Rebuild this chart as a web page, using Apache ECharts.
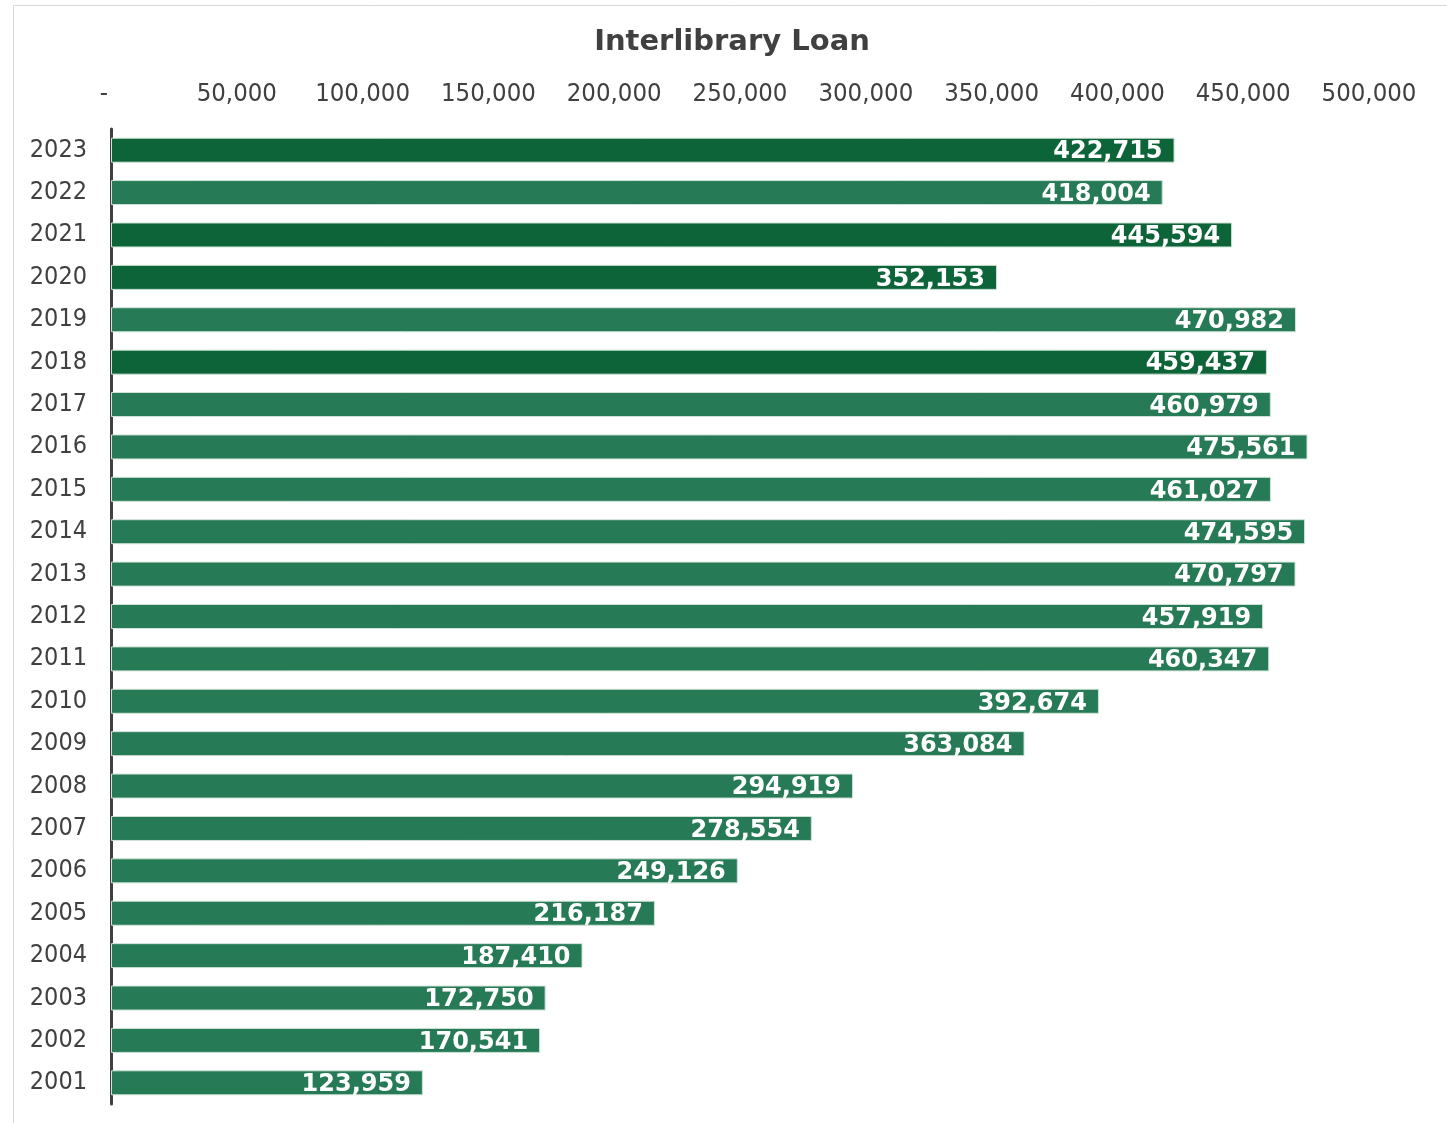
<!DOCTYPE html>
<html>
<head>
<meta charset="utf-8">
<script src="https://cdn.jsdelivr.net/npm/echarts@6/dist/echarts.min.js"></script>
<style>
html,body{margin:0;padding:0;background:#fff;}
#chart{width:1447px;height:1123px;}
</style>
</head>
<body>
<div id="chart"></div>
<script>
// Data (top to bottom as shown)
var years = ['2023','2022','2021','2020','2019','2018','2017','2016','2015','2014','2013','2012','2011','2010','2009','2008','2007','2006','2005','2004','2003','2002','2001'];
var loans = [422715,418004,445594,352153,470982,459437,460979,475561,461027,474595,470797,457919,460347,392674,363084,294919,278554,249126,216187,187410,172750,170541,123959];
var highlightedYears = ['2023','2021','2020','2018'];
var tickMin = 0, tickMax = 500000, tickStep = 50000;

var DARK = '#0e6439', LIGHT = '#267a56', TEXT = '#404040';
var AXFONT = '"DejaVu Sans Condensed", "DejaVu Sans", sans-serif';
var fmtNum = function (v) { return Number(v).toLocaleString('en-US'); };

var chart = echarts.init(document.getElementById('chart'), null, {renderer: 'canvas'});
chart.setOption({
  backgroundColor: '#ffffff',
  animation: false,
  title: {
    text: 'Interlibrary Loan',
    left: 727, top: 23, textAlign: 'center',
    textStyle: {fontFamily: 'DejaVu Sans', fontWeight: 'bold', fontSize: 29, color: TEXT}
  },
  graphic: [{
    type: 'rect', shape: {x: 13.5, y: 5.5, width: 1460, height: 1130},
    style: {fill: 'none', stroke: '#d9d9d9', lineWidth: 1}, silent: true, z: -1
  }],
  grid: {left: 111, right: 78, top: 129, bottom: 19, containLabel: false},
  xAxis: {
    type: 'value', position: 'top', min: tickMin, max: tickMax, interval: tickStep,
    axisLine: {show: false}, axisTick: {show: false}, splitLine: {show: false},
    axisLabel: {
      formatter: function (v) { return v === 0 ? '{dash|-}' : fmtNum(v); },
      color: TEXT, fontFamily: AXFONT, fontSize: 25.5, margin: 22,
      rich: {dash: {fontFamily: AXFONT, fontSize: 25.5, color: TEXT, padding: [0, 14, 0, 0]}}
    }
  },
  yAxis: {
    type: 'category', data: years, inverse: true,
    axisLine: {show: true, lineStyle: {color: TEXT, width: 3}},
    axisTick: {show: false},
    axisLabel: {color: TEXT, fontFamily: AXFONT, fontSize: 25, margin: 24}
  },
  series: [{
    type: 'bar', data: loans, barCategoryGap: '41%',
    itemStyle: {
      color: function (p) { return highlightedYears.indexOf(years[p.dataIndex]) >= 0 ? DARK : LIGHT; },
      borderColor: '#cfe3d6', borderWidth: 1
    },
    label: {
      show: true, position: 'insideRight', distance: 12, offset: [0, 2],
      formatter: function (p) { return fmtNum(p.value); },
      color: '#ffffff', fontFamily: 'DejaVu Sans', fontWeight: 'bold', fontSize: 24
    }
  }]
});
</script>
</body>
</html>
